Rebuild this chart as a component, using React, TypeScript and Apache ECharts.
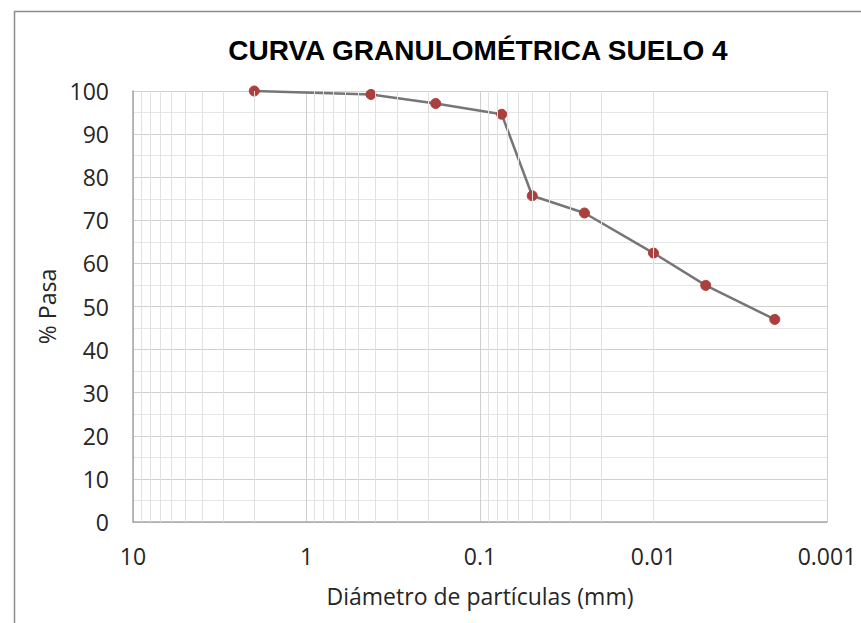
import React, { useEffect, useRef } from "react";
import * as echarts from "echarts";

const TITLE = "CURVA GRANULOMÉTRICA SUELO 4";
const X_NAME = "Diámetro de partículas (mm)";
const Y_NAME = "% Pasa";

const diameters = [2.0, 0.425, 0.18, 0.075, 0.05, 0.025, 0.01, 0.005, 0.002];
const percentPassing = [100, 99.2, 97.1, 94.6, 75.7, 71.7, 62.4, 54.9, 47.0];

const xTickLabels = ["10", "1", "0.1", "0.01", "0.001"];
const decades = [0.001, 0.01, 0.1, 1];
const minorMultipliers = [2, 3, 4, 5, 6, 7, 8, 9];

const FONT = "'Open Sans', 'Liberation Sans', sans-serif";

export default function App() {
  const ref = useRef<HTMLDivElement>(null);

  useEffect(() => {
    if (!ref.current) return;
    const chart = echarts.init(ref.current, undefined, { renderer: "svg" });

    const minorLines: any[] = [];
    decades.forEach((d) =>
      minorMultipliers.forEach((m) => minorLines.push({ xAxis: +(d * m).toPrecision(3) }))
    );

    const points = diameters.map((d, i) => [d, percentPassing[i]]);

    chart.setOption({
      animation: false,
      backgroundColor: "#ffffff",
      graphic: [
        {
          type: "rect",
          left: 12,
          top: 9,
          shape: { width: 900, height: 700 },
          style: { fill: "none", stroke: "#8c8c8c", lineWidth: 1.5 },
          silent: true,
          z: 0,
        },
      ],
      title: {
        text: TITLE,
        left: 473,
        textAlign: "center",
        top: 31,
        textStyle: {
          fontFamily: "'Liberation Sans', Arial, sans-serif",
          fontWeight: "bold",
          fontSize: 28,
          color: "#000000",
        },
      },
      grid: { left: 133, right: 34, top: 91, bottom: 101, containLabel: false },
      xAxis: {
        type: "log",
        logBase: 10,
        min: 0.001,
        max: 10,
        inverse: true,
        name: X_NAME,
        nameLocation: "middle",
        nameGap: 62,
        nameTextStyle: { fontFamily: FONT, fontSize: 23, color: "#262626" },
        axisLine: { show: true, lineStyle: { color: "#a6a6a6", width: 1.5 } },
        axisTick: { show: false },
        axisLabel: {
          margin: 22,
          fontFamily: FONT,
          fontSize: 23,
          color: "#262626",
          formatter: (v: number) => {
            const idx = Math.round(1 - Math.log10(v));
            return xTickLabels[idx] ?? String(v);
          },
        },
        splitLine: { show: true, lineStyle: { color: "#cfcfcf", width: 1 } },
        minorTick: { show: false },
        minorSplitLine: { show: false },
      },
      yAxis: {
        type: "value",
        min: 0,
        max: 100,
        interval: 10,
        name: Y_NAME,
        nameLocation: "middle",
        nameGap: 70,
        nameRotate: 90,
        nameTextStyle: { fontFamily: FONT, fontSize: 23, color: "#262626" },
        axisLine: { show: true, lineStyle: { color: "#a6a6a6", width: 1.5 } },
        axisTick: { show: false },
        axisLabel: { margin: 24, fontFamily: FONT, fontSize: 23, color: "#262626" },
        splitLine: { show: true, lineStyle: { color: "#d0d0d0", width: 1 } },
        minorTick: { show: false, splitNumber: 2 },
        minorSplitLine: { show: true, lineStyle: { color: "#e6e6e6", width: 1 } },
      },
      series: [
        {
          type: "line",
          name: "minorGrid",
          data: points,
          z: 1,
          silent: true,
          symbol: "none",
          lineStyle: { opacity: 0 },
          markLine: {
            silent: true,
            symbol: ["none", "none"],
            label: { show: false },
            lineStyle: { color: "#e1e1e1", width: 1, type: "solid" },
            emphasis: { disabled: true },
            data: minorLines,
          },
        },
        {
          type: "line",
          name: "Suelo 4",
          data: points,
          z: 3,
          symbol: "circle",
          symbolSize: 10,
          lineStyle: { color: "#767676", width: 2.5 },
          itemStyle: { color: "#a9403d", borderColor: "#a9403d" },
        },
      ],
    });

    return () => chart.dispose();
  }, []);

  return (
    <div
      ref={ref}
      style={{ position: "fixed", left: 0, top: 0, width: 861, height: 623 }}
    />
  );
}
